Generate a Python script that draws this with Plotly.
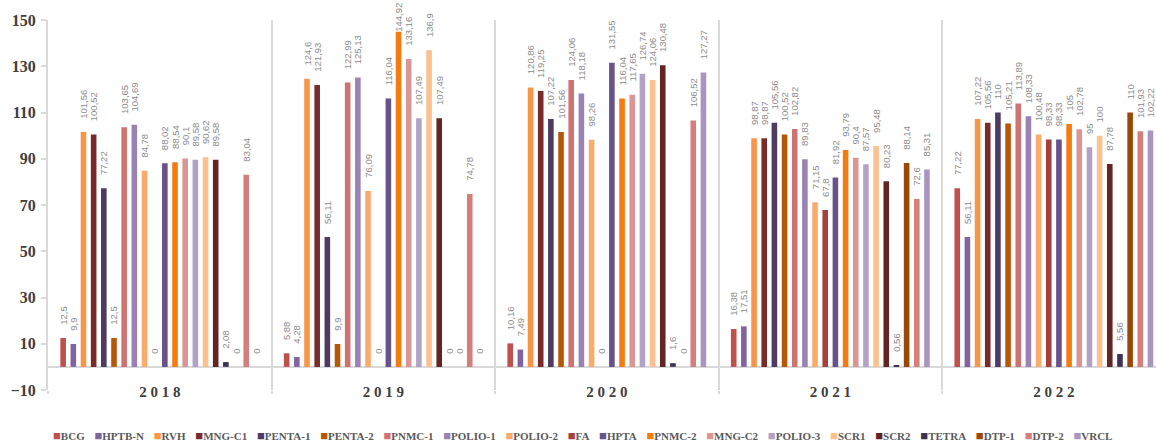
import plotly.graph_objects as go

# Coverage (%) per vaccine, one value per year
years = ["2018", "2019", "2020", "2021", "2022"]

bcg = [12.5, 5.88, 10.16, 16.38, 77.22]
hptb_n = [9.9, 4.28, 7.49, 17.51, 56.11]
rvh = [101.56, 124.6, 120.86, 98.87, 107.22]
mng_c1 = [100.52, 121.93, 119.25, 98.87, 105.56]
penta_1 = [77.22, 56.11, 107.22, 105.56, 110]
penta_2 = [12.5, 9.9, 101.56, 100.52, 105.21]
pnmc_1 = [103.65, 122.99, 124.06, 102.82, 113.89]
polio_1 = [104.69, 125.13, 118.18, 89.83, 108.33]
polio_2 = [84.78, 76.09, 98.26, 71.15, 100.48]
fa = [0, 0, 0, 67.8, 98.33]
hpta = [88.02, 116.04, 131.55, 81.92, 98.33]
pnmc_2 = [88.54, 144.92, 116.04, 93.79, 105]
mng_c2 = [90.1, 133.16, 117.65, 90.4, 102.78]
polio_3 = [89.58, 107.49, 126.74, 87.57, 95]
scr1 = [90.62, 136.9, 124.06, 95.48, 100]
scr2 = [89.58, 107.49, 130.48, 80.23, 87.78]
tetra = [2.08, 0, 1.6, 0.56, 5.56]
dtp_1 = [0, 0, 0, 88.14, 110]
dtp_2 = [83.04, 74.78, 106.52, 72.6, 101.93]
vrcl = [0, 0, 127.27, 85.31, 102.22]

series = [
    ("BCG", bcg, "#C0504D"),
    ("HPTB-N", hptb_n, "#8064A2"),
    ("RVH", rvh, "#F79646"),
    ("MNG-C1", mng_c1, "#772C2A"),
    ("PENTA-1", penta_1, "#4D3B62"),
    ("PENTA-2", penta_2, "#B65708"),
    ("PNMC-1", pnmc_1, "#CD7371"),
    ("POLIO-1", polio_1, "#9983B5"),
    ("POLIO-2", polio_2, "#F9AB6B"),
    ("FA", fa, "#A5403D"),
    ("HPTA", hpta, "#67528A"),
    ("PNMC-2", pnmc_2, "#F47B10"),
    ("MNG-C2", mng_c2, "#D99694"),
    ("POLIO-3", polio_3, "#B3A2C7"),
    ("SCR1", scr1, "#FAC08F"),
    ("SCR2", scr2, "#632523"),
    ("TETRA", tetra, "#3F3151"),
    ("DTP-1", dtp_1, "#984807"),
    ("DTP-2", dtp_2, "#D47F7D"),
    ("VRCL", vrcl, "#A995C2"),
]

y_ticks = [-10, 10, 30, 50, 70, 90, 110, 130, 150]

GRID = "#D9D9D9"
SERIF = "Liberation Serif"
NBSP = "\u00a0"


def label(v):
    # decimal comma, lifted off the bar top by a few non-breaking spaces
    txt = f"{v:g}".replace(".", ",")
    pad = "" if v > 140 else NBSP * 5
    return pad + txt


fig = go.Figure()
for name, vals, color in series:
    fig.add_trace(go.Bar(
        name=name,
        x=years,
        y=vals,
        marker=dict(color=color, line=dict(width=0)),
        text=[label(v) for v in vals],
        textposition="outside",
        textangle=-90,
        constraintext="none",
        cliponaxis=False,
        textfont=dict(family="Liberation Sans", size=9.5, color="#8C8C8C"),
        showlegend=False,
    ))

# Legend line: coloured squares followed by the series names
legend_parts = [
    f"<span style='color:{c};font-size:13px'>■</span>{n}" for n, _, c in series
]
spacer = "<span style='font-size:13px'>" + NBSP * 3 + "</span>"
legend_text = spacer.join(legend_parts)
fig.add_annotation(
    text=legend_text,
    xref="paper", yref="paper",
    x=0.482, y=-0.122,
    xanchor="center", yanchor="middle",
    showarrow=False,
    font=dict(family=SERIF, size=11, color="#595959", weight="bold"),
)

fig.update_layout(
    width=1156,
    height=442,
    margin=dict(l=48, r=0, t=20, b=52),
    paper_bgcolor="white",
    plot_bgcolor="white",
    barmode="group",
    bargap=0.09,
    bargroupgap=0.45,
    showlegend=False,
    xaxis=dict(
        type="category",
        range=[-0.5, 4.457],
        tickmode="array",
        tickvals=years,
        ticktext=[" ".join(y) for y in years],
        tickson="boundaries",
        ticks="outside",
        ticklen=3,
        tickcolor=GRID,
        tickwidth=1.5,
        showgrid=True,
        gridcolor=GRID,
        gridwidth=1.5,
        showline=False,
        zeroline=False,
        ticklabelstandoff=-9,
        tickfont=dict(family=SERIF, size=15, color="#404040", weight="bold"),
    ),
    yaxis=dict(
        range=[-10, 150],
        tickmode="array",
        tickvals=y_ticks,
        showgrid=False,
        showline=True,
        linecolor=GRID,
        linewidth=2,
        ticks="outside",
        ticklen=5,
        tickcolor=GRID,
        tickwidth=1.5,
        zeroline=True,
        zerolinecolor=GRID,
        zerolinewidth=2,
        ticklabelstandoff=2,
        tickfont=dict(family=SERIF, size=16, color="#404040", weight="bold"),
    ),
)

fig.write_html("out.html")
